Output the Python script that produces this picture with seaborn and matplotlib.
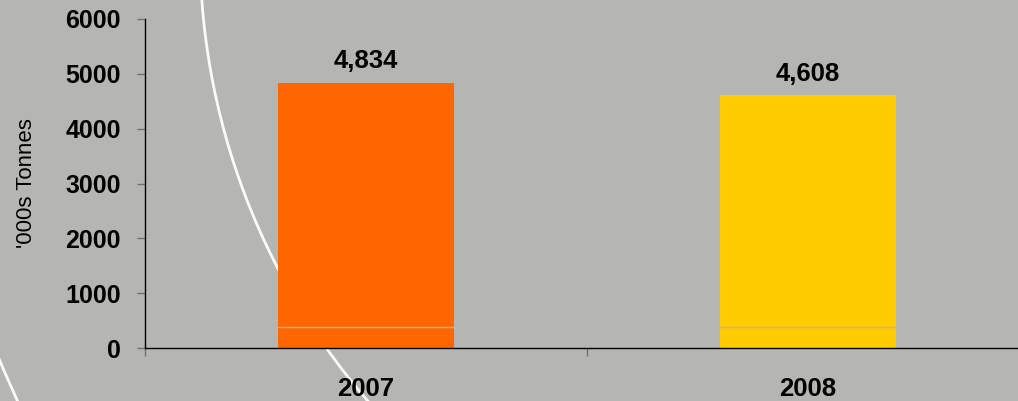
import matplotlib
matplotlib.use('Agg')
import matplotlib.pyplot as plt
import seaborn as sns
import pandas as pd
from matplotlib.patches import Circle

# ---- data ----
years = ['2007', '2008']
tonnes = [4834, 4608]
value_labels = ['4,834', '4,608']
bar_colors = ['#FF6600', '#FFCC00']
y_ticks = [0, 1000, 2000, 3000, 4000, 5000, 6000]
y_label = "'000s Tonnes"

sns.set_theme(style='white')
plt.rcParams['font.family'] = ['Liberation Sans', 'DejaVu Sans']

BG = '#b5b5b1'
W, H = 1018, 401
fig = plt.figure(figsize=(W / 100, H / 100), dpi=100, facecolor=BG)

# decorative background arcs (pixel coordinates)
bg = fig.add_axes([0, 0, 1, 1], zorder=0)
bg.set_xlim(0, W)
bg.set_ylim(H, 0)
bg.axis('off')
bg.add_patch(Circle((890, -50), 690, fill=False, ec='white', lw=2.0, alpha=0.95))
bg.add_patch(Circle((1382, -222), 1500, fill=False, ec='white', lw=2.0, alpha=0.95))

# main axes
ax = fig.add_axes([145 / W, 53 / H, 884 / W, 329 / H], zorder=1)
ax.patch.set_alpha(0)

df = pd.DataFrame({'Year': years, 'Tonnes': tonnes})
sns.barplot(data=df, x='Year', y='Tonnes', hue='Year', palette=bar_colors,
            width=0.4, legend=False, saturation=1, ax=ax, zorder=2,
            linewidth=0, edgecolor='none')

ax.set_xlim(-0.5, 1.5)
ax.set_ylim(0, 6000)

# y axis
ax.set_yticks(y_ticks)
ax.set_yticklabels([str(t) for t in y_ticks], fontsize=18, fontweight='bold')
ax.tick_params(axis='y', which='major', left=True, length=5.5, width=1,
               color='#707070', pad=12, labelcolor='black')
ax.set_ylabel(y_label, fontsize=16, color='black')
ax.yaxis.set_label_coords(-0.122, 0.5)

# x axis: tick marks between categories, labels at centers
ax.set_xticks([-0.5, 0.5, 1.5])
ax.set_xticklabels([])
ax.set_xticks([0, 1], minor=True)
ax.set_xticklabels(years, minor=True, fontsize=18.5, fontweight='bold')
ax.tick_params(axis='x', which='major', bottom=True, length=5.5, width=1, color='#707070')
ax.tick_params(axis='x', which='minor', bottom=True, length=0, pad=21, labelcolor='black')
ax.set_xlabel('')

for s in ['top', 'right']:
    ax.spines[s].set_visible(False)
for s in ['left', 'bottom']:
    ax.spines[s].set_color('black')
    ax.spines[s].set_linewidth(1.0)
    ax.spines[s].set_zorder(4)

# faint artifact line across bars
ax.axhline(377, color=BG, lw=1, zorder=3)

# value labels
for cont, lab in zip(ax.containers, value_labels):
    ax.bar_label(cont, labels=[lab], padding=7, fontsize=18.5, fontweight='bold', color='black')

fig.savefig('out.png', dpi=100, facecolor=BG)
